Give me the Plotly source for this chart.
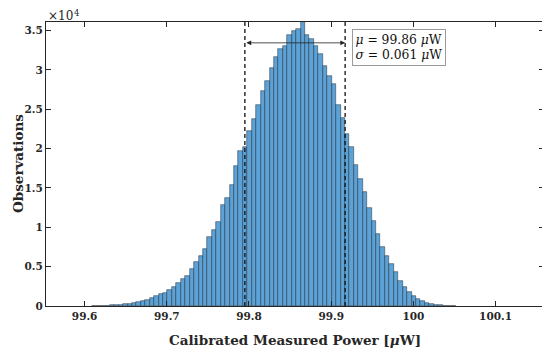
import plotly.graph_objects as go

# Histogram data (counts)
bin_start = 99.6090      # left edge of first bin [uW]
bin_width = 0.0054       # bin width [uW]
counts_e4 = [
    0.001, 0.002, 0.004, 0.006, 0.009, 0.013, 0.017, 0.022, 0.028, 0.036,
    0.050, 0.061, 0.080, 0.097, 0.122, 0.150, 0.170, 0.205, 0.240, 0.288,
    0.345, 0.385, 0.470, 0.560, 0.630, 0.730, 0.880, 0.970, 1.070, 1.290,
    1.370, 1.540, 1.780, 1.970, 2.020, 2.220, 2.380, 2.550, 2.730, 2.860,
    3.020, 3.160, 3.270, 3.300, 3.440, 3.490, 3.520, 3.610, 3.440, 3.390,
    3.300, 3.200, 3.050, 2.920, 2.820, 2.550, 2.390, 2.190, 2.020, 1.790,
    1.620, 1.450, 1.240, 1.080, 0.910, 0.750, 0.630, 0.530, 0.430, 0.315,
    0.245, 0.175, 0.133, 0.091, 0.066, 0.041, 0.028, 0.019, 0.011, 0.006,
    0.003, 0.001,
]
mu = 99.856
sigma = 0.061
x_ticks = [99.6, 99.7, 99.8, 99.9, 100.0, 100.1]
x_tick_labels = ["99.6", "99.7", "99.8", "99.9", "100", "100.1"]
y_ticks = [0, 5000, 10000, 15000, 20000, 25000, 30000, 35000]
y_tick_labels = ["0", "0.5", "1", "1.5", "2", "2.5", "3", "3.5"]

counts = [c * 1e4 for c in counts_e4]
centers = [bin_start + bin_width * (i + 0.5) for i in range(len(counts))]

SERIF = "'DejaVu Serif', 'Liberation Serif', serif"
AX = "#262626"

fig = go.Figure()
fig.add_trace(go.Bar(
    x=centers, y=counts, width=bin_width,
    marker=dict(color="rgb(92,162,214)",
                line=dict(color="rgba(30,45,60,0.85)", width=0.6)),
    showlegend=False, hoverinfo="skip",
))

y_top = 36100
for xv in (mu - sigma, mu + sigma):
    fig.add_shape(type="line", xref="x", yref="paper", x0=xv, x1=xv, y0=0, y1=1,
                  line=dict(color="#111111", width=1.3, dash="4px,3px"))

# double arrow between the dashed lines
fig.add_annotation(x=mu + sigma, y=33450, ax=mu - sigma, ay=33450,
                   xref="x", yref="y", axref="x", ayref="y",
                   text="", showarrow=True, arrowhead=2, startarrowhead=2,
                   arrowside="end+start", arrowsize=1.2, arrowwidth=0.8,
                   arrowcolor="#222222")

fig.add_annotation(xref="paper", yref="paper", x=0.6145, y=0.974,
                   xanchor="left", yanchor="top", align="left",
                   text="<i>μ</i> = 99.86 <i>μ</i>W<br><i>σ</i> = 0.061 <i>μ</i>W",
                   showarrow=False, bgcolor="white", bordercolor="#9a9a9a",
                   borderwidth=1, borderpad=2.5,
                   font=dict(family=SERIF, size=12.3, color="#111111"))

# x10^4 exponent label (split so it fits inside the figure)
fig.add_annotation(xref="paper", yref="paper", x=0.0, y=1.0, yshift=6.5,
                   xanchor="left", yanchor="middle", showarrow=False,
                   text="×10", font=dict(family=SERIF, size=12, color=AX))
fig.add_annotation(xref="paper", yref="paper", x=0.0, y=1.0, xshift=26, yshift=9.5,
                   xanchor="left", yanchor="middle", showarrow=False,
                   text="4", font=dict(family=SERIF, size=8.5, color=AX))

# axis titles
fig.add_annotation(xref="paper", yref="paper", x=0.5, y=0, yshift=-34,
                   xanchor="center", yanchor="middle", showarrow=False,
                   text="<b>Calibrated Measured Power [<i>μ</i>W]</b>",
                   font=dict(family=SERIF, size=13.5, color=AX))
fig.add_annotation(xref="paper", yref="paper", x=0, y=0.5, xshift=-28,
                   xanchor="center", yanchor="middle", showarrow=False,
                   textangle=-90, text="<b>Observations</b>",
                   font=dict(family=SERIF, size=13.5, color=AX))

axis_common = dict(showline=True, linecolor=AX, linewidth=1.2, mirror="ticks",
                   ticks="inside", ticklen=5, tickcolor=AX, tickwidth=1,
                   showgrid=False, zeroline=False, automargin=False,
                   tickfont=dict(family=SERIF, size=10.5, color=AX))

fig.update_xaxes(range=[99.553, 100.159], tickvals=x_ticks,
                 ticktext=["<b>%s</b>" % t for t in x_tick_labels],
                 **axis_common)
fig.update_yaxes(range=[0, y_top], tickvals=y_ticks,
                 ticktext=["<b>%s</b>" % t for t in y_tick_labels],
                 **axis_common)

# page body has an 8px margin: size/offset the figure so the plot area
# lands where the reference has it
fig.update_layout(width=542, height=344, bargap=0,
                  margin=dict(l=38, r=6, t=14, b=46, autoexpand=False),
                  plot_bgcolor="white", paper_bgcolor="white")

fig.write_html("out.html")
